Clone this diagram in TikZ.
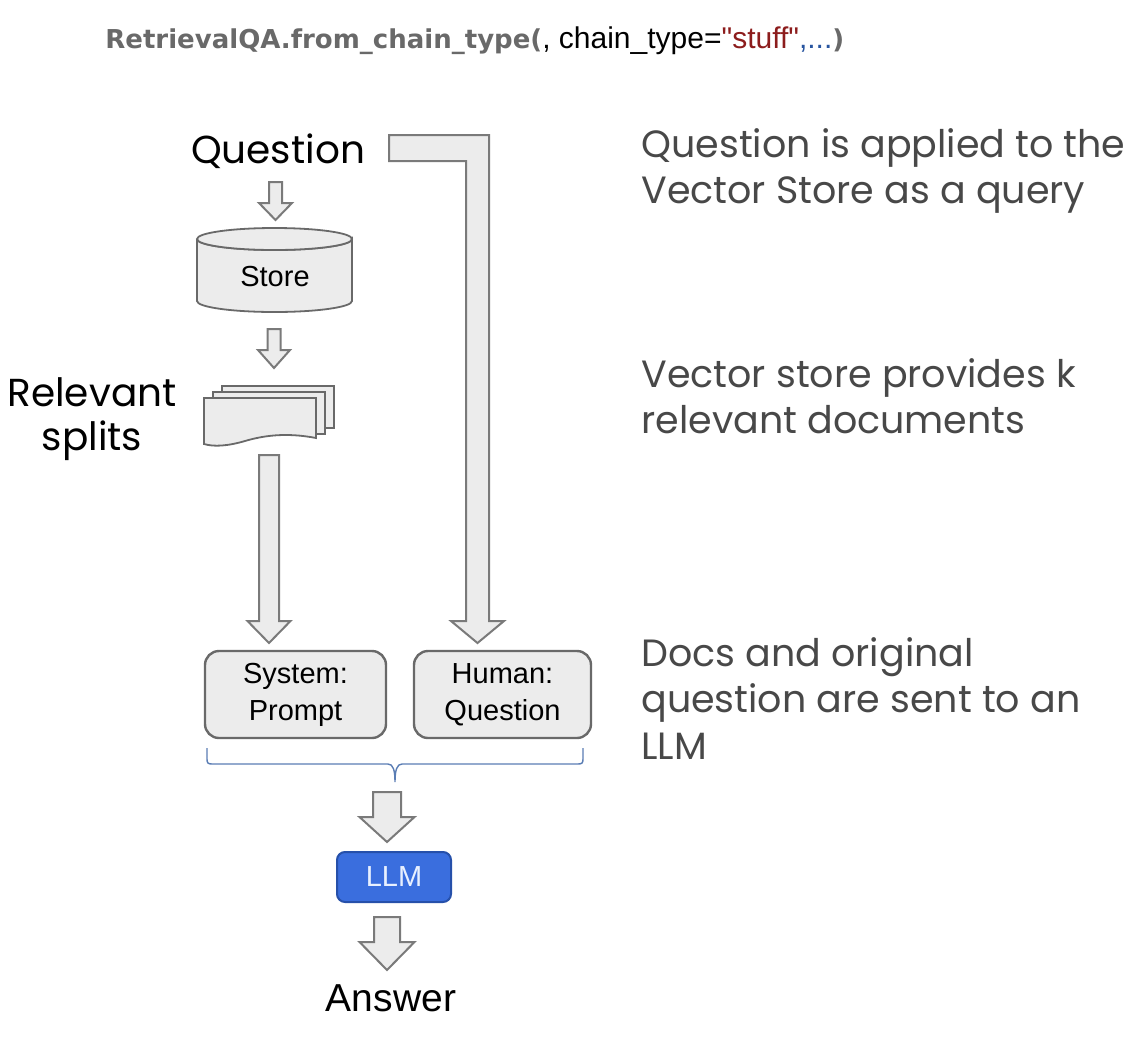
\documentclass[tikz,border=0pt]{standalone}
\usepackage{fontspec}
\setmainfont{Liberation Sans}
\newfontfamily\popfont{Poppins}
\newfontfamily\codefont{DejaVu Sans}
\newfontfamily\plainquote{Liberation Sans}[Ligatures=TeXOff]
\usepackage{tikz}
\usepackage{xcolor}

\definecolor{arrowfill}{RGB}{236,236,236}
\definecolor{arrowline}{RGB}{122,122,122}
\definecolor{boxline}{RGB}{105,105,105}
\definecolor{notegray}{RGB}{72,72,72}
\definecolor{codegray}{RGB}{105,105,105}
\definecolor{codered}{RGB}{140,28,28}
\definecolor{codeblue}{RGB}{40,85,160}
\definecolor{llmblue}{RGB}{58,110,222}
\definecolor{llmline}{RGB}{38,80,170}
\definecolor{bracebl}{RGB}{90,125,180}

\tikzset{
    fatarrow/.style={fill=arrowfill, draw=arrowline, line width=1pt, line join=miter},
    msgbox/.style={draw=boxline, fill=arrowfill, line width=1.2pt, rounded corners=7pt,
        minimum height=43.5pt, align=center, font=\fontsize{14.5}{18.5}\selectfont},
    bigtext/.style={font=\popfont\fontsize{19.5}{22}\selectfont},
    note/.style={font=\popfont\fontsize{19}{23.3}\selectfont, text=notegray, align=left, anchor=north west, inner sep=0pt}
}

%% block arrow pointing down: x, top, tip, half shaft, half head, head length
\newcommand{\downblock}[6]{%
    \draw[fatarrow] (#1-#4,#2) -- (#1+#4,#2) -- (#1+#4,#3-#6) -- (#1+#5,#3-#6)
        -- (#1,#3) -- (#1-#5,#3-#6) -- (#1-#4,#3-#6) -- cycle;}

\begin{document}
\begin{tikzpicture}[x=0.5pt, y=-0.5pt]
    \useasboundingbox (0,0) rectangle (1136,1040);

    %% call at the top
    \node[anchor=base west, inner sep=0pt] (call) at (105,48)
        {\codefont\bfseries\fontsize{13}{14}\selectfont\color{codegray}RetrievalQA.from\_chain\_type(%
         \plainquote\mdseries\fontsize{15}{16}\selectfont\color{black}, chain\_type=\color{codered}"stuff"%
         \color{codeblue},...\codefont\bfseries\fontsize{13}{14}\selectfont\color{codegray})};

    %% question and vector store
    \node[bigtext, anchor=base] (question) at (278,163) {Question};
    \downblock{275.5}{182}{220}{6.5}{16.5}{17}

    \draw[fill=arrowfill, draw=boxline, line width=0.9pt]
        (197,239) -- (197,301) arc[start angle=180, end angle=0, x radius=77.5, y radius=11]
        -- (352,239) arc[start angle=0, end angle=180, x radius=77.5, y radius=11];
    \draw[fill=arrowfill, draw=boxline, line width=0.9pt] (274.5,239) ellipse [x radius=77.5, y radius=11];
    \node[font=\fontsize{14.5}{17}\selectfont] (store) at (275,277) {Store};

    \downblock{274}{329}{368}{6.5}{16}{18}

    %% stack of splits
    \draw[fill=arrowfill, draw=boxline, line width=0.9pt]
        (222,386) -- (334,386) -- (334,428) -- (222,428) -- cycle;
    \draw[fill=arrowfill, draw=boxline, line width=0.9pt]
        (213,392) -- (325,392) -- (325,434) -- (213,434) -- cycle;
    \draw[fill=arrowfill, draw=boxline, line width=0.9pt]
        (204,398) -- (316,398) -- (316,438)
        .. controls (285,432) and (262,436) .. (245,441)
        .. controls (228,446) and (214,447) .. (204,444) -- cycle;
    \node[bigtext, align=center] (splits) at (92,419) {Relevant\\splits};

    %% long arrows
    \downblock{269}{455}{643}{10}{21.5}{22}
    \draw[fatarrow] (389,135) -- (489,135) -- (489,621) -- (504,621) -- (477.5,643)
        -- (451,621) -- (466,621) -- (466,161) -- (389,161) -- cycle;

    %% prompt parts
    \node[msgbox, minimum width=90.5pt] (system) at (295.5,694.5) {System:\\Prompt};
    \node[msgbox, minimum width=88.5pt] (human) at (502.5,694.5) {Human:\\Question};

    %% brace under both parts
    \draw[bracebl, line width=0.7pt] (207,748) -- (207,759)
        .. controls (207,763) and (208,764) .. (212,764) -- (388,764)
        .. controls (393,764) and (395,770) .. (395,782)
        .. controls (395,770) and (397,764) .. (402,764) -- (578,764)
        .. controls (582,764) and (583,763) .. (583,759) -- (583,748);

    \downblock{387}{792}{842}{14}{27.5}{25}
    \node[draw=llmline, fill=llmblue, line width=1pt, rounded corners=4pt,
        minimum width=57pt, minimum height=25pt, text={rgb,255:red,232;green,240;blue,255},
        font=\fontsize{14.5}{17}\selectfont] (llm) at (394,877) {LLM};
    \downblock{387}{917}{970}{13}{27.5}{28}
    \node[font=\fontsize{19.5}{22}\selectfont, anchor=base] (answer) at (391,1011) {Answer};

    %% notes on the right
    \node[note] (note1) at (641,128) {Question is applied to the\\Vector Store as a query};
    \node[note] (note2) at (641,358) {Vector store provides k\\relevant documents};
    \node[note] (note3) at (641,637) {Docs and original\\question are sent to an\\LLM};

\end{tikzpicture}
\end{document}
